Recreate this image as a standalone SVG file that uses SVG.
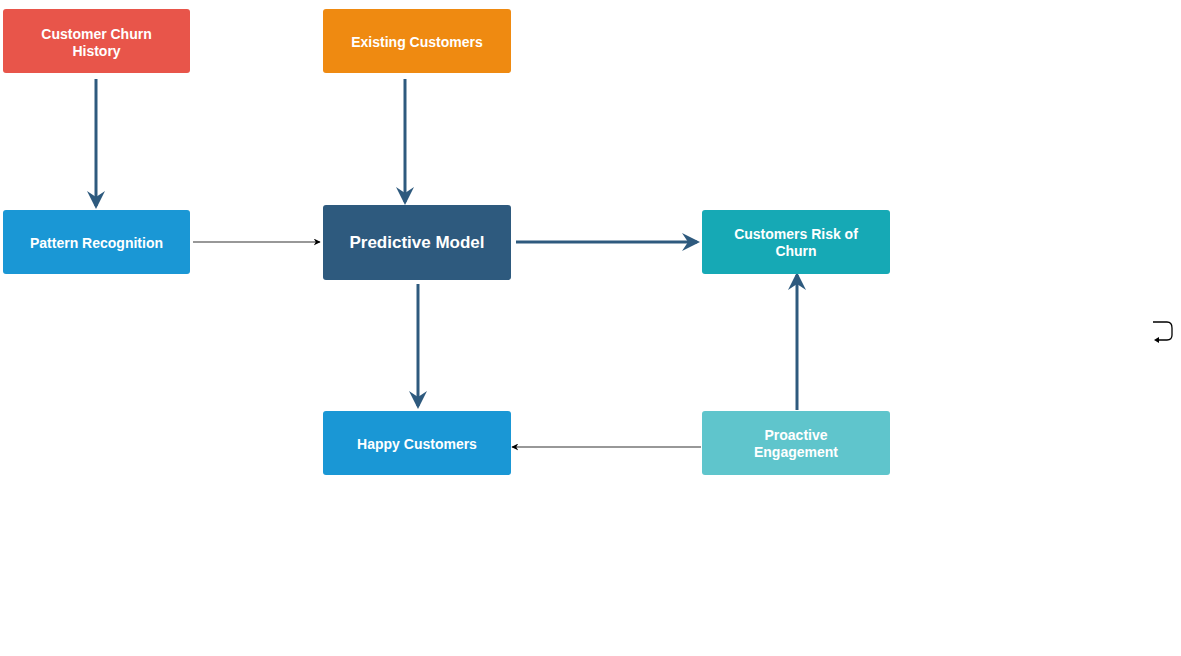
<svg xmlns="http://www.w3.org/2000/svg" width="1181" height="656" viewBox="0 0 1181 656">
<style>
.box{stroke:none}
.t{font-family:"Liberation Sans",Arial,sans-serif;font-weight:bold;fill:#fff;font-size:14px;text-anchor:middle}
.thick{stroke:#2e5a7e;stroke-width:3;fill:none}
.thin{stroke:#333;stroke-width:1.2;fill:none}
</style>
<defs>
<marker id="ah" viewBox="0 0 12 12" refX="10" refY="6" markerWidth="6" markerHeight="6" markerUnits="strokeWidth" orient="auto">
<path d="M0,0 L12,6 L0,12 L4,6 Z" fill="#2e5a7e"/>
</marker>
<marker id="as" viewBox="0 0 10 10" refX="9" refY="5" markerWidth="7" markerHeight="7" markerUnits="userSpaceOnUse" orient="auto">
<path d="M0,0 L10,5 L0,10 L3,5 Z" fill="#000"/>
</marker>
</defs>
<rect width="1181" height="656" fill="#fff"/>
<g id="connectors">
<line class="thick" x1="96" y1="79" x2="96" y2="206" marker-end="url(#ah)"/>
<line class="thick" x1="405" y1="79" x2="405" y2="202" marker-end="url(#ah)"/>
<line class="thin" x1="193" y1="242" x2="320" y2="242" marker-end="url(#as)"/>
<line class="thick" x1="516" y1="242" x2="697" y2="242" marker-end="url(#ah)"/>
<line class="thick" x1="418" y1="284" x2="418" y2="406" marker-end="url(#ah)"/>
<line class="thick" x1="797" y1="410" x2="797" y2="275" marker-end="url(#ah)"/>
<line class="thin" x1="701" y1="447" x2="512" y2="447" marker-end="url(#as)"/>
</g>
<g id="n-churn-history">
<rect class="box" x="3" y="9" width="187" height="64" rx="3" fill="#e8554a"/>
<text class="t" x="96.5" y="39">Customer Churn</text>
<text class="t" x="96.5" y="56">History</text>
</g>
<g id="n-existing">
<rect class="box" x="323" y="9" width="188" height="64" rx="3" fill="#ef8a11"/>
<text class="t" x="417" y="47">Existing Customers</text>
</g>
<g id="n-pattern">
<rect class="box" x="3" y="210" width="187" height="64" rx="3" fill="#1a97d5"/>
<text class="t" x="96.5" y="248">Pattern Recognition</text>
</g>
<g id="n-predictive">
<rect class="box" x="323" y="205" width="188" height="75" rx="3" fill="#2e5a7e"/>
<text class="t" x="417" y="248" style="font-size:17px">Predictive Model</text>
</g>
<g id="n-risk">
<rect class="box" x="702" y="210" width="188" height="64" rx="3" fill="#16a9b5"/>
<text class="t" x="796" y="239">Customers Risk of</text>
<text class="t" x="796" y="256">Churn</text>
</g>
<g id="n-happy">
<rect class="box" x="323" y="411" width="188" height="64" rx="3" fill="#1a97d5"/>
<text class="t" x="417" y="449">Happy Customers</text>
</g>
<g id="n-proactive">
<rect class="box" x="702" y="411" width="188" height="64" rx="3" fill="#5fc5cc"/>
<text class="t" x="796" y="440">Proactive</text>
<text class="t" x="796" y="457">Engagement</text>
</g>
<g id="icon">
<path d="M1153,322 L1167,322 Q1172,322 1172,328 L1172,335 Q1172,340 1167,340 L1156,340" fill="none" stroke="#000" stroke-width="1.3"/>
<path d="M1154,340 L1159,337 L1159,343 Z" fill="#000"/>
</g>
</svg>
